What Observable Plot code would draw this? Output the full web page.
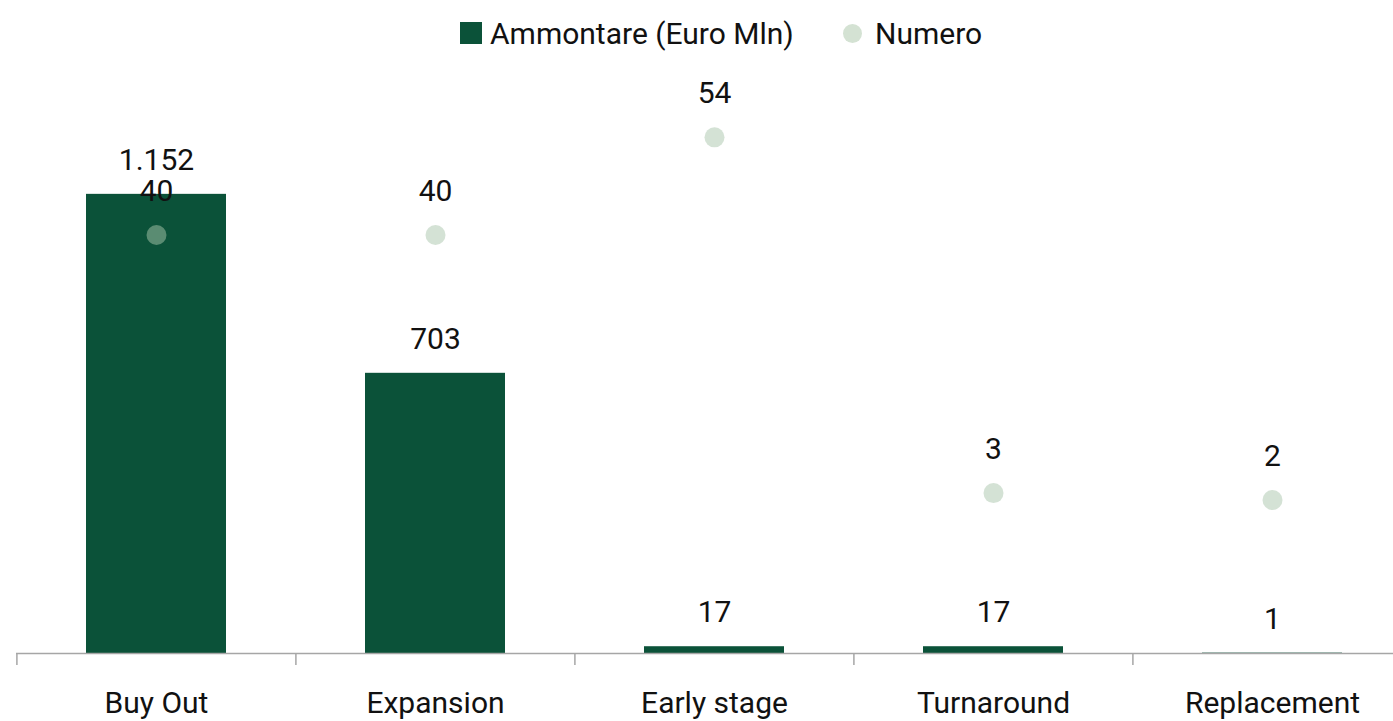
<!DOCTYPE html>
<html>
<head>
<meta charset="utf-8">
<script src="https://cdn.jsdelivr.net/npm/d3@7"></script>
<script src="https://cdn.jsdelivr.net/npm/@observablehq/plot@0.6"></script>
<style>
  html, body { margin: 0; padding: 0; background: #fff; }
  body { width: 1393px; height: 721px; overflow: hidden; font-family: Roboto, "Noto Sans", sans-serif; }
  #legend { position: relative; height: 60px; font-size: 30px; color: #111; }
  .item { position: absolute; top: 0; height: 66px; display: flex; align-items: center; }
  .sw { display: inline-block; margin-right: 8px; }
  #chart svg { display: block; }
</style>
</head>
<body>
<div id="legend">
  <div class="item" style="left:460px"><span class="sw" style="width:22px;height:22px;background:#0b5239"></span><span>Ammontare (Euro Mln)</span></div>
  <div class="item" style="left:843px"><span class="sw" style="width:19px;height:19px;border-radius:50%;background:#d4e2d3;margin-right:13px"></span><span>Numero</span></div>
</div>
<div id="chart"></div>
<script>
const categories = ["Buy Out", "Expansion", "Early stage", "Turnaround", "Replacement"];
const ammontare = [1152, 703, 17, 17, 1];
const numero = [40, 40, 54, 3, 2];

const yDomain = [0, 1400];      // primary axis (Euro Mln)
const y2Domain = [-20, 60];     // secondary axis (Numero)
const toPrimary = v => yDomain[0] + (v - y2Domain[0]) / (y2Domain[1] - y2Domain[0]) * (yDomain[1] - yDomain[0]);

const data = categories.map((c, i) => ({cat: c, amm: ammontare[i], num: numero[i]}));
const fmt = v => v.toLocaleString("it-IT");

const xRange = [16, 1412];
const step = (xRange[1] - xRange[0]) / categories.length;

const chart = Plot.plot({
  width: 1393,
  height: 661,
  marginLeft: 16,
  marginRight: 0,
  marginTop: 35,
  marginBottom: 68,
  style: {fontFamily: "Roboto, 'Noto Sans', sans-serif", fontSize: "30px", color: "#111", background: "#fff"},
  x: {domain: categories, range: xRange, paddingInner: 0.5, paddingOuter: 0.25, label: null},
  y: {domain: yDomain, axis: null},
  marks: [
    Plot.barY(data, {x: "cat", y: "amm", fill: "#0b5239"}),
    Plot.ruleY([0], {stroke: "#a6a6a6", strokeWidth: 1.5}),
    Plot.ruleX(data, {x: "cat", dx: -step / 2, y1: 0, y2: -30, stroke: "#a6a6a6", strokeWidth: 1.5}),
    Plot.dot(data, {x: "cat", y: d => toPrimary(d.num), r: 10, fill: "#aac6ab", fillOpacity: 0.5}),
    Plot.text(data, {x: "cat", y: "amm", text: d => fmt(d.amm), dy: -34, fill: "#111", fontSize: 30}),
    Plot.text(data, {x: "cat", y: d => toPrimary(d.num), text: d => fmt(d.num), dy: -44, fill: "#111", fontSize: 30}),
    Plot.axisX({tickSize: 0, tickPadding: 38, fontSize: 30, fill: "#111", label: null})
  ]
});
document.getElementById("chart").appendChild(chart);
</script>
</body>
</html>
